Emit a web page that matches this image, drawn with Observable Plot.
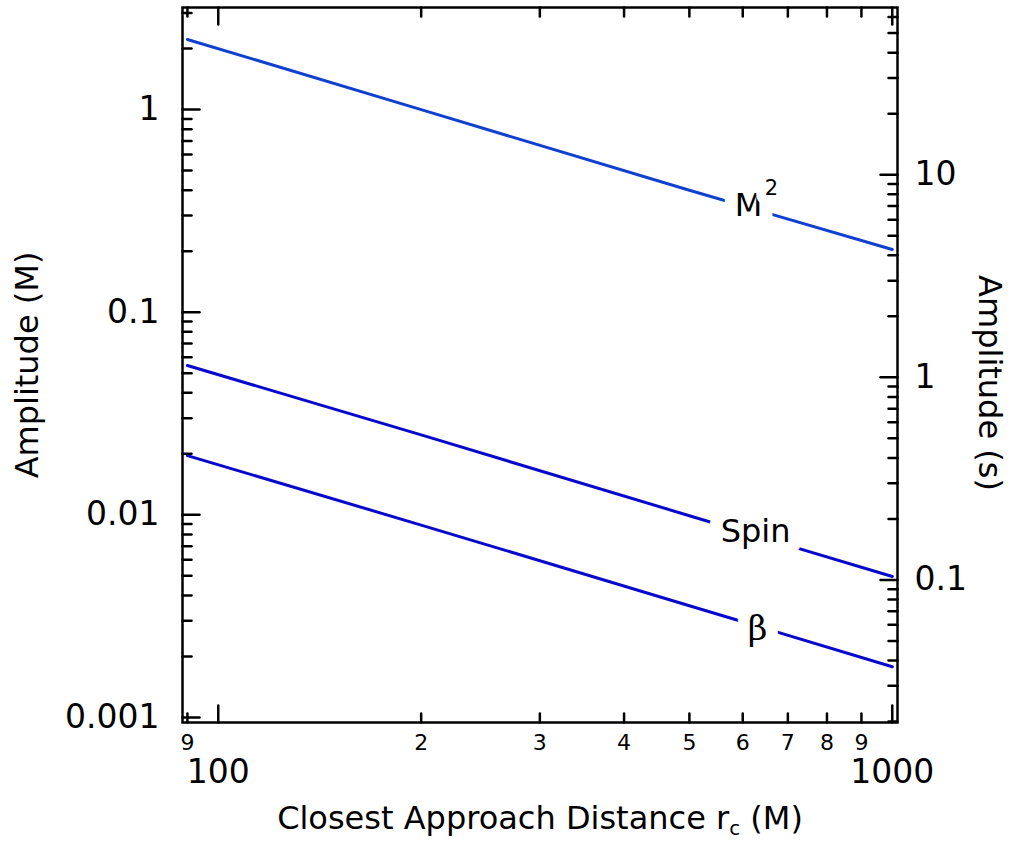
<!DOCTYPE html>
<html><head><meta charset="utf-8">
<script src="https://cdn.jsdelivr.net/npm/d3@7"></script>
<script src="https://cdn.jsdelivr.net/npm/@observablehq/plot@0.6"></script>
<style>body{margin:0;background:#fff}</style>
</head><body><div id="chart"></div>
<script>
// ---- data ----
const rc = [90, 200, 500, 1000];                     // closest approach distance (M)
const ampM2 = [2.22, 1.0, 0.40, 0.204];             // amplitude (M)
const ampSpin = [0.0546, 0.0248, 0.0099, 0.00496];
const ampBeta = [0.0196, 0.0089, 0.00356, 0.00178];
const seriesNames = ["M2", "Spin", "Beta"];
const seriesColors = ["#1040d0", "#0808cc", "#0808cc"];
const secondsPerM = 20.95;                            // right axis conversion (s per M)

const xMajorTicks = [100, 1000];
const xMajorLabels = ["100", "1000"];
const xMinorTicks = [90, 200, 300, 400, 500, 600, 700, 800, 900];
const xMinorLabels = ["9", "2", "3", "4", "5", "6", "7", "8", "9"];
const yMajorTicks = [0.001, 0.01, 0.1, 1];
const yMajorLabels = ["0.001", "0.01", "0.1", "1"];
const yMinorTicks = [0.002, 0.003, 0.004, 0.005, 0.006, 0.007, 0.008, 0.009,
                     0.02, 0.03, 0.04, 0.05, 0.06, 0.07, 0.08, 0.09,
                     0.2, 0.3, 0.4, 0.5, 0.6, 0.7, 0.8, 0.9, 2, 3];
const sMajorTicks = [0.1, 1, 10];
const sMajorLabels = ["0.1", "1", "10"];
const sMinorTicks = [0.02, 0.03, 0.04, 0.05, 0.06, 0.07, 0.08, 0.09,
                     0.2, 0.3, 0.4, 0.5, 0.6, 0.7, 0.8, 0.9,
                     2, 3, 4, 5, 6, 7, 8, 9, 20, 30, 40, 50, 60];

const lineLabels = [
  {label: "M", rc: 612, amp: 0.3345},
  {label: "Spin", rc: 627, amp: 0.00827}
];
const superLabels = [{label: "2", rc: 612, amp: 0.3345}];
const greekLabels = [{label: "β", rc: 631, amp: 0.00272}];

const xTitle = "Closest Approach Distance rc (M)";
const yTitleLeft = "Amplitude (M)";
const yTitleRight = "Amplitude (s)";

// ---- table ----
const table = [];
[ampM2, ampSpin, ampBeta].forEach((arr, k) =>
  arr.forEach((v, i) => table.push({series: seriesNames[k], rc: rc[i], amp: v})));

const yDomain = [Math.pow(10, -3.025), Math.pow(10, 0.504)];
const tickShape = {draw(ctx, l) { ctx.moveTo(0, 0); ctx.lineTo(0, -l); }};
const vt = (data, ch, frameAnchor, rotate, length) => Plot.vector(data, {
  [ch]: d => d, frameAnchor, rotate, length, anchor: "start", shape: tickShape,
  stroke: "black", strokeWidth: 2.5
});
const inY = v => v >= yDomain[0] && v <= yDomain[1];

const chart = Plot.plot({
  width: 1013, height: 842,
  marginLeft: 182, marginRight: 116, marginTop: 7, marginBottom: 120,
  style: {fontFamily: "DejaVu Sans", background: "white", color: "black"},
  x: {type: "log", domain: [88.5, 1018], axis: null},
  y: {type: "log", domain: yDomain, axis: null},
  color: {domain: seriesNames, range: seriesColors},
  marks: [
    Plot.line(table, {x: "rc", y: "amp", z: "series", stroke: "series", strokeWidth: 3}),
    // halos + labels
    Plot.text(lineLabels, {x: "rc", y: "amp", text: "label", fontSize: 32, fill: "black",
      stroke: "white", strokeWidth: 26, strokeLinejoin: "round", paintOrder: "stroke"}),
    Plot.text(superLabels, {x: "rc", y: "amp", text: "label", fontSize: 21, dx: 23, dy: -18, fill: "black",
      stroke: "white", strokeWidth: 20, strokeLinejoin: "round", paintOrder: "stroke"}),
    Plot.text(greekLabels, {x: "rc", y: "amp", text: "label", fontSize: 34, fontFamily: "DejaVu Serif", fill: "black",
      stroke: "white", strokeWidth: 24, strokeLinejoin: "round", paintOrder: "stroke"}),
    Plot.frame({stroke: "black", strokeWidth: 2.5}),
    // x ticks bottom & top
    vt(xMajorTicks, "x", "bottom", 0, 17),
    vt(xMinorTicks, "x", "bottom", 0, 9),
    vt(xMajorTicks, "x", "top", 180, 17),
    vt(xMinorTicks, "x", "top", 180, 9),
    // left ticks (M)
    vt(yMajorTicks.filter(inY), "y", "left", 90, 17),
    vt(yMinorTicks.filter(inY), "y", "left", 90, 9),
    // right ticks (s)
    Plot.vector(sMajorTicks.map(s => s / secondsPerM).filter(inY), {y: d => d, frameAnchor: "right", rotate: 270,
      length: 17, anchor: "start", shape: tickShape, stroke: "black", strokeWidth: 2.5}),
    Plot.vector(sMinorTicks.map(s => s / secondsPerM).filter(inY), {y: d => d, frameAnchor: "right", rotate: 270,
      length: 9, anchor: "start", shape: tickShape, stroke: "black", strokeWidth: 2.5}),
    // tick labels
    Plot.text(xMajorTicks, {x: d => d, text: (d, i) => xMajorLabels[i], frameAnchor: "bottom", lineAnchor: "middle", dy: 50, fontSize: 33}),
    Plot.text(xMinorTicks, {x: d => d, text: (d, i) => xMinorLabels[i], frameAnchor: "bottom", lineAnchor: "middle", dy: 20, fontSize: 22}),
    Plot.text(yMajorTicks, {y: d => d, text: (d, i) => yMajorLabels[i], frameAnchor: "left", textAnchor: "end", lineAnchor: "middle", dx: -23, fontSize: 33}),
    Plot.text(sMajorTicks, {y: d => d / secondsPerM, text: (d, i) => sMajorLabels[i], frameAnchor: "right", textAnchor: "start", lineAnchor: "middle", dx: 17, fontSize: 33}),
    // titles
    Plot.text([xTitle], {text: d => d, frameAnchor: "bottom", textAnchor: "middle", lineAnchor: "middle", dy: 96, fontSize: 32}),
    Plot.text([yTitleLeft], {text: d => d, frameAnchor: "left", textAnchor: "middle", lineAnchor: "middle", dx: -155, rotate: -90, fontSize: 32}),
    Plot.text([yTitleRight], {text: d => d, frameAnchor: "right", textAnchor: "middle", lineAnchor: "middle", dx: 92, dy: 18, rotate: 90, fontSize: 32})
  ]
});

// subscript "c" in the x title
chart.querySelectorAll("text").forEach(t => {
  if (t.textContent === xTitle) {
    const ns = "http://www.w3.org/2000/svg";
    while (t.firstChild) t.removeChild(t.firstChild);
    t.appendChild(document.createTextNode("Closest Approach Distance r"));
    const sub = document.createElementNS(ns, "tspan");
    sub.setAttribute("dy", "6"); sub.setAttribute("font-size", "20"); sub.textContent = "c";
    const rest = document.createElementNS(ns, "tspan");
    rest.setAttribute("dy", "-6"); rest.textContent = " (M)";
    t.appendChild(sub); t.appendChild(rest);
  }
});
document.getElementById("chart").appendChild(chart);
</script>
</body></html>
